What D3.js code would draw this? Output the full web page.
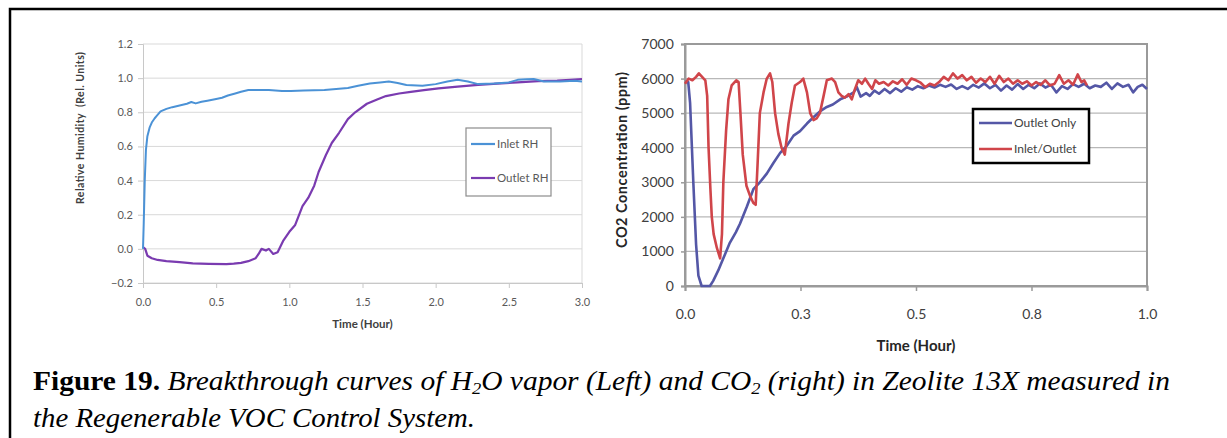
<!DOCTYPE html>
<html>
<head>
<meta charset="utf-8">
<script src="https://cdn.jsdelivr.net/npm/d3@7"></script>
<style>
  html, body { margin: 0; padding: 0; background: #fff; }
  svg { display: block; }
  .caption text { font-family: "Liberation Serif", "Times New Roman", Times, serif; }
</style>
</head>
<body>
<div id="chart"></div>
<script>
// Left panel: H2O breakthrough (time in hours, relative humidity)
const inletRH = [
  [0.000, 0.00], [0.005, 0.15], [0.012, 0.40], [0.020, 0.58], [0.030, 0.66], [0.045, 0.71],
  [0.060, 0.74], [0.080, 0.765], [0.095, 0.78], [0.120, 0.805], [0.160, 0.82], [0.200, 0.83],
  [0.250, 0.84], [0.300, 0.85], [0.330, 0.86], [0.360, 0.852], [0.400, 0.862], [0.440, 0.868],
  [0.500, 0.878], [0.540, 0.885], [0.580, 0.898], [0.630, 0.91], [0.670, 0.92], [0.720, 0.93],
  [0.800, 0.931], [0.860, 0.93], [0.950, 0.925], [1.010, 0.925], [1.100, 0.928], [1.240, 0.93],
  [1.320, 0.936], [1.400, 0.942], [1.470, 0.955], [1.550, 0.968], [1.620, 0.975], [1.680, 0.98],
  [1.740, 0.972], [1.800, 0.96], [1.910, 0.955], [2.000, 0.965], [2.080, 0.98], [2.150, 0.99],
  [2.220, 0.98], [2.290, 0.965], [2.400, 0.968], [2.500, 0.975], [2.560, 0.99], [2.620, 0.993],
  [2.670, 0.995], [2.740, 0.98], [2.850, 0.98], [2.950, 0.985], [3.000, 0.98]
];

const outletRH = [
  [0.000, 0.01], [0.015, 0.00], [0.030, -0.04], [0.060, -0.055], [0.100, -0.065], [0.160, -0.072],
  [0.250, -0.078], [0.340, -0.085], [0.450, -0.088], [0.570, -0.09], [0.620, -0.087], [0.670, -0.082],
  [0.720, -0.072], [0.770, -0.055], [0.790, -0.03], [0.810, 0.00], [0.840, -0.01], [0.860, 0.00],
  [0.890, -0.03], [0.920, -0.02], [0.960, 0.05], [1.000, 0.10], [1.040, 0.14], [1.090, 0.25],
  [1.130, 0.30], [1.170, 0.37], [1.200, 0.45], [1.250, 0.55], [1.290, 0.62], [1.340, 0.68],
  [1.400, 0.76], [1.450, 0.80], [1.530, 0.85], [1.600, 0.875], [1.660, 0.895], [1.750, 0.91],
  [1.830, 0.92], [1.920, 0.93], [2.020, 0.94], [2.150, 0.95], [2.290, 0.96], [2.420, 0.968],
  [2.560, 0.975], [2.700, 0.982], [2.830, 0.985], [2.920, 0.99], [3.000, 0.995]
];

// Right panel: CO2 concentration (ppm) vs time (hours)
const outletOnly = [
  [0.000, 5900], [0.007, 5900], [0.011, 5300], [0.018, 3000], [0.024, 1200], [0.029, 300],
  [0.036, 0], [0.045, 0], [0.054, 0], [0.061, 150], [0.072, 450], [0.083, 800], [0.097, 1250],
  [0.110, 1550], [0.119, 1800], [0.134, 2300], [0.148, 2800], [0.162, 3000], [0.177, 3250],
  [0.191, 3550], [0.206, 3850], [0.220, 4050], [0.235, 4350], [0.249, 4480], [0.264, 4700],
  [0.278, 4880], [0.292, 5050], [0.307, 5180], [0.320, 5250], [0.336, 5400], [0.350, 5480],
  [0.365, 5600], [0.372, 5750], [0.380, 5480], [0.392, 5580], [0.400, 5500], [0.410, 5650],
  [0.420, 5560], [0.432, 5700], [0.444, 5580], [0.456, 5720], [0.468, 5620], [0.480, 5750],
  [0.492, 5680], [0.504, 5780], [0.516, 5720], [0.528, 5800], [0.540, 5740], [0.552, 5820],
  [0.564, 5760], [0.576, 5830], [0.588, 5700], [0.600, 5780], [0.612, 5700], [0.624, 5820],
  [0.636, 5740], [0.648, 5860], [0.660, 5720], [0.672, 5820], [0.684, 5650], [0.696, 5800],
  [0.708, 5680], [0.720, 5840], [0.732, 5700], [0.744, 5820], [0.756, 5720], [0.768, 5860],
  [0.780, 5740], [0.792, 5820], [0.804, 5600], [0.816, 5780], [0.828, 5700], [0.840, 5840],
  [0.852, 5760], [0.864, 5850], [0.876, 5720], [0.888, 5800], [0.900, 5760], [0.912, 5880],
  [0.924, 5700], [0.936, 5860], [0.948, 5760], [0.960, 5820], [0.970, 5600], [0.980, 5760],
  [0.990, 5820], [1.000, 5700]
];

const inletOutlet = [
  [0.000, 5850], [0.008, 6000], [0.016, 5950], [0.024, 6050], [0.030, 6150], [0.037, 6050],
  [0.044, 5950], [0.048, 5500], [0.051, 4000], [0.055, 2800], [0.058, 2000], [0.062, 1500],
  [0.069, 1100], [0.076, 800], [0.080, 1500], [0.083, 3000], [0.089, 4500], [0.094, 5400],
  [0.101, 5800], [0.111, 5950], [0.116, 5900], [0.120, 5000], [0.125, 3800], [0.133, 2900],
  [0.141, 2600], [0.148, 2400], [0.153, 2350], [0.157, 3500], [0.162, 5000], [0.170, 5600],
  [0.177, 6000], [0.184, 6150], [0.189, 5900], [0.195, 5000], [0.202, 4400], [0.209, 4000],
  [0.216, 3800], [0.224, 4700], [0.231, 5300], [0.238, 5800], [0.249, 5900], [0.256, 6000],
  [0.264, 5600], [0.271, 5000], [0.278, 4800], [0.285, 4850], [0.292, 5000], [0.300, 5500],
  [0.307, 5950], [0.318, 6000], [0.325, 5900], [0.332, 5600], [0.339, 5500], [0.346, 5450],
  [0.354, 5550], [0.361, 5400], [0.368, 5700], [0.375, 5950], [0.383, 5850], [0.390, 6000],
  [0.397, 5850], [0.405, 5700], [0.412, 5950], [0.420, 5850], [0.430, 5900], [0.440, 5800],
  [0.450, 5920], [0.460, 5850], [0.470, 5980], [0.480, 5820], [0.490, 6000], [0.500, 5950],
  [0.510, 5880], [0.520, 5750], [0.530, 5850], [0.540, 5800], [0.550, 5900], [0.560, 6050],
  [0.570, 5950], [0.580, 6150], [0.590, 6000], [0.600, 6100], [0.610, 5950], [0.620, 6050],
  [0.630, 5880], [0.640, 6000], [0.650, 5900], [0.660, 6050], [0.670, 5850], [0.680, 6080],
  [0.690, 5900], [0.700, 6000], [0.710, 5850], [0.720, 5950], [0.730, 5850], [0.740, 5920],
  [0.750, 5800], [0.760, 5900], [0.770, 5820], [0.780, 5950], [0.790, 5800], [0.800, 5850],
  [0.810, 6100], [0.820, 5850], [0.830, 5950], [0.840, 5820], [0.850, 6120], [0.858, 5900],
  [0.864, 5950], [0.870, 5800]
];

const leftXTicks = [0, 0.5, 1, 1.5, 2, 2.5, 3];
const leftYTicks = [-0.2, 0, 0.2, 0.4, 0.6, 0.8, 1.0, 1.2];
const rightXTicks = [0, 0.25, 0.5, 0.75, 1];
const rightXLabels = ["0.0", "0.3", "0.5", "0.8", "1.0"];
const rightYTicks = [0, 1000, 2000, 3000, 4000, 5000, 6000, 7000];

const W = 1227, H = 438;
const chartFont = "Lato, 'Open Sans', sans-serif";

const svg = d3.select("#chart").append("svg")
  .attr("width", W)
  .attr("height", H)
  .attr("viewBox", [0, 0, W, H]);

svg.append("rect").attr("width", W).attr("height", H).attr("fill", "#fff");

// ---- Page frame ----
svg.append("path")
  .attr("d", `M10,${H} V9 H${W}`)
  .attr("fill", "none")
  .attr("stroke", "#000")
  .attr("stroke-width", 2.5);

// ---- Left chart ----
{
  const box = { left: 143, right: 582, top: 44, bottom: 283 };
  const x = d3.scaleLinear([0, 3], [box.left, box.right]);
  const y = d3.scaleLinear([-0.2, 1.2], [box.bottom, box.top]);
  const g = svg.append("g").attr("font-family", chartFont);

  // gridlines
  g.append("g").selectAll("line").data(leftYTicks).join("line")
    .attr("x1", box.left).attr("x2", box.right)
    .attr("y1", d => y(d)).attr("y2", d => y(d))
    .attr("stroke", "#d9d9d9").attr("stroke-width", 1);

  g.append("line")
    .attr("x1", box.right).attr("x2", box.right)
    .attr("y1", box.top).attr("y2", box.bottom)
    .attr("stroke", "#d9d9d9");

  const yAxis = g.append("g")
    .attr("transform", `translate(${box.left},0)`)
    .call(d3.axisLeft(y).tickValues(leftYTicks).tickFormat(d3.format(".1f")).tickSizeOuter(0).tickSize(5));
  const xAxis = g.append("g")
    .attr("transform", `translate(0,${box.bottom})`)
    .call(d3.axisBottom(x).tickValues(leftXTicks).tickFormat(d3.format(".1f")).tickSizeOuter(0).tickSize(5));

  for (const ax of [xAxis, yAxis]) {
    ax.select(".domain").attr("stroke", "#c8c8c8");
    ax.selectAll(".tick line").attr("stroke", "#c8c8c8");
    ax.selectAll(".tick text").attr("fill", "#595959").attr("font-size", 11).attr("font-family", chartFont);
  }
  xAxis.selectAll(".tick text").attr("dy", "1.4em");
  yAxis.selectAll(".tick text").attr("dx", "-0.2em");

  const line = d3.line().x(d => x(d[0])).y(d => y(d[1]));

  g.append("path").datum(outletRH)
    .attr("d", line).attr("fill", "none")
    .attr("stroke", "#7a3bb0").attr("stroke-width", 2.2).attr("stroke-linejoin", "round");
  g.append("path").datum(inletRH)
    .attr("d", line).attr("fill", "none")
    .attr("stroke", "#4b92d6").attr("stroke-width", 2).attr("stroke-linejoin", "round");

  g.append("text")
    .attr("x", (box.left + box.right) / 2).attr("y", 328)
    .attr("text-anchor", "middle")
    .attr("font-size", 11.5).attr("font-weight", 700).attr("fill", "#404040")
    .text("Time (Hour)");

  g.append("text")
    .attr("transform", `translate(84,128) rotate(-90)`)
    .attr("text-anchor", "middle")
    .attr("font-size", 10.5).attr("font-weight", 700).attr("fill", "#404040")
    .attr("textLength", 152).attr("lengthAdjust", "spacing")
    .attr("xml:space", "preserve")
    .text("Relative Humidity  (Rel. Units)");

  // legend
  const leg = g.append("g");
  leg.append("rect")
    .attr("x", 466).attr("y", 128).attr("width", 85).attr("height", 68)
    .attr("fill", "#fff").attr("stroke", "#8c8c8c").attr("stroke-width", 1.2);
  const legItems = [["Inlet RH", "#4b92d6", 144], ["Outlet RH", "#7a3bb0", 178]];
  for (const [name, col, ly] of legItems) {
    leg.append("line").attr("x1", 471).attr("x2", 495).attr("y1", ly).attr("y2", ly)
      .attr("stroke", col).attr("stroke-width", 2.2);
    leg.append("text").attr("x", 497).attr("y", ly).attr("dy", "0.35em")
      .attr("font-size", 11.5).attr("fill", "#595959").text(name);
  }
}

// ---- Right chart ----
{
  const box = { left: 685, right: 1147, top: 44, bottom: 286 };
  const x = d3.scaleLinear([0, 1], [box.left, box.right]);
  const y = d3.scaleLinear([0, 7000], [box.bottom, box.top]);
  const g = svg.append("g").attr("font-family", chartFont);

  g.append("g").selectAll("line").data(rightYTicks).join("line")
    .attr("x1", box.left).attr("x2", box.right)
    .attr("y1", d => y(d)).attr("y2", d => y(d))
    .attr("stroke", "#b8b8b8").attr("stroke-width", 1.3);

  g.append("rect")
    .attr("x", box.left).attr("y", box.top)
    .attr("width", box.right - box.left).attr("height", box.bottom - box.top)
    .attr("fill", "none").attr("stroke", "#9a9a9a").attr("stroke-width", 2);

  const yAxis = g.append("g")
    .attr("transform", `translate(${box.left},0)`)
    .call(d3.axisLeft(y).tickValues(rightYTicks).tickFormat(d3.format("d")).tickSizeOuter(0).tickSize(4));
  const xAxis = g.append("g")
    .attr("transform", `translate(0,${box.bottom})`)
    .call(d3.axisBottom(x).tickValues(rightXTicks).tickFormat((d, i) => rightXLabels[i]).tickSizeOuter(0).tickSize(5));

  for (const ax of [xAxis, yAxis]) {
    ax.select(".domain").attr("stroke", "#9a9a9a").attr("stroke-width", 2);
    ax.selectAll(".tick line").attr("stroke", "#9a9a9a").attr("stroke-width", 1.5);
    ax.selectAll(".tick text").attr("fill", "#404040").attr("font-size", 14).attr("font-family", chartFont);
  }
  xAxis.selectAll(".tick text").attr("dy", "1.75em");
  yAxis.selectAll(".tick text").attr("dx", "-0.3em");

  const line = d3.line().x(d => x(d[0])).y(d => y(d[1]));

  g.append("path").datum(outletOnly)
    .attr("d", line).attr("fill", "none")
    .attr("stroke", "#5457a6").attr("stroke-width", 2.6).attr("stroke-linejoin", "round");
  g.append("path").datum(inletOutlet)
    .attr("d", line).attr("fill", "none")
    .attr("stroke", "#d0454a").attr("stroke-width", 2.6).attr("stroke-linejoin", "round");

  g.append("text")
    .attr("x", 916).attr("y", 351)
    .attr("text-anchor", "middle")
    .attr("font-size", 15).attr("font-weight", 700).attr("fill", "#262626")
    .text("Time (Hour)");

  g.append("text")
    .attr("transform", `translate(627,160) rotate(-90)`)
    .attr("text-anchor", "middle")
    .attr("font-size", 14.5).attr("font-weight", 700).attr("fill", "#262626")
    .attr("textLength", 176).attr("lengthAdjust", "spacing")
    .text("CO2 Concentration (ppm)");

  const leg = g.append("g");
  leg.append("rect")
    .attr("x", 973).attr("y", 109).attr("width", 116).attr("height", 54)
    .attr("fill", "#fff").attr("stroke", "#000").attr("stroke-width", 2.5);
  const legItems = [["Outlet Only", "#5457a6", 123], ["Inlet/Outlet", "#d0454a", 149]];
  for (const [name, col, ly] of legItems) {
    leg.append("line").attr("x1", 979).attr("x2", 1012).attr("y1", ly).attr("y2", ly)
      .attr("stroke", col).attr("stroke-width", 2.6);
    leg.append("text").attr("x", 1014).attr("y", ly).attr("dy", "0.35em")
      .attr("font-size", 12).attr("fill", "#404040").text(name);
  }
}

// ---- Caption ----
{
  const cap = svg.append("g")
    .attr("class", "caption")
    .attr("font-size", 27)
    .attr("fill", "#000");

  const l1 = cap.append("text").attr("x", 33).attr("y", 390)
    .attr("textLength", 1137).attr("lengthAdjust", "spacingAndGlyphs");
  l1.append("tspan").attr("font-weight", 700).text("Figure 19. ");
  const it = l1.append("tspan").attr("font-style", "italic");
  it.append("tspan").text("Breakthrough curves of H");
  it.append("tspan").attr("font-size", 17).attr("dy", 4).text("2");
  it.append("tspan").attr("dy", -4).text("O vapor (Left) and CO");
  it.append("tspan").attr("font-size", 17).attr("dy", 4).text("2");
  it.append("tspan").attr("dy", -4).text(" (right) in Zeolite 13X measured in");

  cap.append("text").attr("x", 33).attr("y", 427)
    .attr("font-style", "italic")
    .attr("textLength", 442).attr("lengthAdjust", "spacingAndGlyphs")
    .text("the Regenerable VOC Control System.");
}
</script>
</body>
</html>
